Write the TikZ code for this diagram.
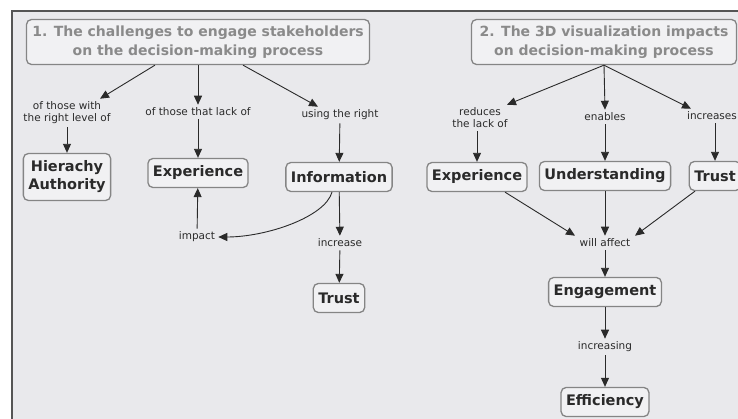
\documentclass[tikz,border=0pt]{standalone}
\usepackage{fontspec}
\setmainfont{DejaVu Sans}
\usetikzlibrary{arrows.meta}

\definecolor{paper}{HTML}{E9E9EC}
\definecolor{boxfill}{HTML}{F1F1F3}
\definecolor{boxline}{HTML}{858585}
\definecolor{ink}{HTML}{2A2A2A}
\definecolor{titleink}{HTML}{8A8A8A}

\tikzset{
  concept/.style={draw=boxline, line width=1.3pt, rounded corners=5pt, fill=boxfill,
    text=ink, font=\fontsize{14.5}{18}\selectfont\bfseries, align=center,
    inner xsep=5pt, minimum height=29pt},
  heading/.style={concept, text=titleink, font=\fontsize{14}{19}\selectfont\bfseries,
    minimum height=45pt},
  linkword/.style={text=ink, font=\fontsize{10.5}{12}\selectfont, align=center, inner sep=3pt},
  arr/.style={draw=ink, line width=0.9pt, -{Triangle[length=9pt,width=8pt]}}
}

\begin{document}
\begin{tikzpicture}[x=1pt, y=-1pt]
\useasboundingbox (0,0) rectangle (738,419);
\clip (0,0) rectangle (738,419);
\draw[line width=1.5pt, draw=ink!80, fill=paper] (12,11) rectangle (760,440);

% 1. challenges
\node[heading, minimum width=343pt] (t1) at (198,42) {1. The challenges to engage stakeholders\\on the decision-making process};
\node[linkword] (with) at (67,113) {of those with\\the right level of};
\node[linkword] (lack) at (198,112) {of those that lack of};
\node[linkword] (right) at (340,115) {using the right};
\node[concept, minimum height=47pt] (hier) at (67,177) {Hierachy\\Authority};
\node[concept] (exp1) at (198,173) {Experience};
\node[concept] (info) at (339,177) {Information};
\node[linkword] (impact) at (197,237) {impact};
\node[linkword] (incr) at (340,243) {increase};
\node[concept] (trust1) at (339,298) {Trust};

% 2. 3D visualization impacts
\node[heading, minimum width=265pt] (t2) at (604,42) {2. The 3D visualization impacts\\on decision-making process};
\node[linkword] (reduce) at (480,118) {reduces\\the lack of};
\node[linkword] (enable) at (605,117) {enables};
\node[linkword] (raise) at (712,116) {increases};
\node[concept] (exp2) at (477,177) {Experience};
\node[concept] (under) at (605,176) {Understanding};
\node[concept] (trust2) at (715,176) {Trust};
\node[linkword] (affect) at (605,243) {will affect};
\node[concept] (engage) at (605,292) {Engagement};
\node[linkword] (increasing) at (605,347) {increasing};
\node[concept] (effic) at (605,402) {Efficiency};

\draw[arr] ([xshift=-43pt]t1.south) -- ([xshift=33pt]with.north);
\draw[arr] (t1.south) -- (lack.north);
\draw[arr] ([xshift=45pt]t1.south) -- ([xshift=-22pt]right.north);
\draw[arr] (with) -- (hier);
\draw[arr] (lack) -- (exp1);
\draw[arr] (right) -- (info);
\draw[arr] (impact) -- (exp1);
\draw[arr] ([xshift=-7pt]info.south) .. controls +(-7,25) and +(48,0) .. (impact.east);
\draw[arr] (info) -- (incr);
\draw[arr] (incr) -- (trust1);

\draw[arr] (t2.south) -- ([xshift=27pt]reduce.north);
\draw[arr] (t2.south) -- (enable.north);
\draw[arr] (t2.south) -- ([xshift=-21pt]raise.north);
\draw[arr] ([xshift=-3pt]reduce.south) -- (exp2.north);
\draw[arr] (enable) -- (under);
\draw[arr] ([xshift=3pt]raise.south) -- ([xshift=0pt]trust2.north);
\draw[arr] ([xshift=28pt]exp2.south) -- ([xshift=-30pt]affect.north);
\draw[arr] (under) -- (affect);
\draw[arr] ([xshift=-20pt]trust2.south) -- ([xshift=30pt]affect.north);
\draw[arr] (affect) -- (engage);
\draw[arr] (engage) -- (increasing);
\draw[arr] (increasing) -- (effic);
\end{tikzpicture}
\end{document}
